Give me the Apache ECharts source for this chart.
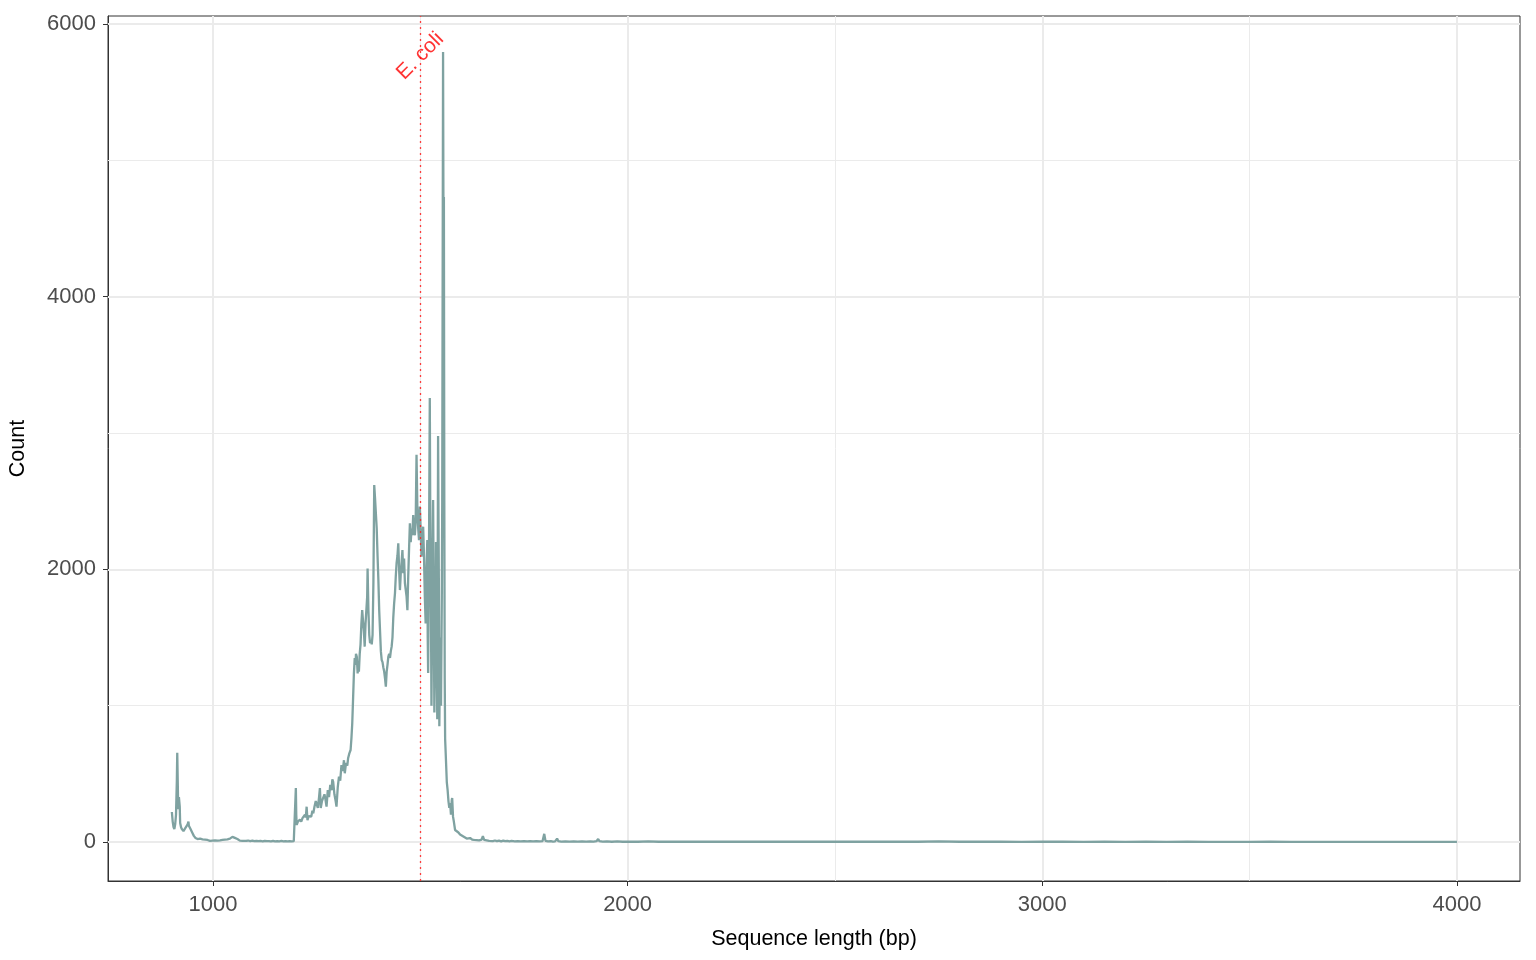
<!DOCTYPE html>
<html><head><meta charset="utf-8">
<script src="https://cdn.jsdelivr.net/npm/echarts@6/dist/echarts.min.js"></script>
<style>html,body{margin:0;padding:0;background:#fff}#c{width:1536px;height:960px}</style>
</head><body><div id="c"></div>
<script>
// Sequence length (bp) and read counts
const seqLength = [
901,903,905,907,909,911,913,914,916,917,918,920,921,923,925,927,929,931,933,935,937,939,941,942,944,946,948,950,952,954,956,958,960,963,966,969,972,975,978,981,984,987,990,993,996,999,
1002,1005,1008,1011,1014,1017,1020,1023,1026,1029,1032,1035,1038,1041,1044,1047,1050,1053,1056,1059,1062,1065,1068,1071,1075,1080,1085,1090,1095,1100,1105,1110,1115,1120,1125,1130,1135,1140,1145,1150,1155,1160,1165,1170,1175,1180,1185,1190,1195,1198,1199,
1200,1201,1202,1205,1207,1210,1213,1216,1219,1222,1224,1226,1228,1231,1234,1237,1240,1242,1245,1248,1250,1253,1256,1258,1260,1263,1266,1269,1271,1274,1277,1280,1283,1286,1288,1290,1293,1296,1298,
1301,1304,1307,1310,1313,1316,1318,1321,1324,1326,1329,1332,1334,1336,1338,1340,1342,1344,1345,1347,1349,1350,1352,1354,1356,1358,1360,1362,1364,1366,1368,1370,1372,1373,1375,1377,1379,1381,1383,1385,1387,1389,1391,1393,1395,1397,1399,
1401,1403,1405,1407,1409,1411,1413,1415,1417,1419,1421,1423,1425,1427,1429,1431,1433,1435,1437,1439,1441,1443,1445,1447,1449,1451,1453,1455,1457,1459,1461,1463,1465,1467,1469,1471,1473,1475,1477,1479,1481,1483,1485,1487,1489,1491,1493,1495,1497,1499,
1501,1503,1505,1507,1509,1511,1513,1515,1517,1518,1519,1521,1523,1524,1526,1527,1529,1531,1533,1534,1536,1538,1540,1541,1543,1545,1546,1548,1550,1552,1553,1555,1556,1557,1558,1559,1560,1562,1564,1566,1568,1570,1572,1574,1576,1577,1579,1581,1584,1588,1592,1596,
1600,1604,1608,1612,1616,1620,1625,1630,1636,1642,1648,1651,1654,1660,1666,1670,1675,1680,1685,1690,1695,1700,1705,1710,1715,1720,1728,1735,1742,1750,1758,1765,1772,1780,1788,1795,1799,1802,1808,1815,1820,1825,1830,1833,1840,1850,1860,1870,1880,1890,1900,1910,1918,1925,1929,1932,1940,1950,1962,1975,1988,
2000,2025,2050,2075,2100,2125,2150,2175,2200,2250,2300,2350,2400,2450,2500,2550,2600,2650,2700,2750,2800,2850,2900,2950,3000,3050,3100,3150,3200,3250,3300,3350,3400,3450,3500,3550,3600,3650,3700,3750,3800,3850,3900,3950,4000
];
const counts = [
220,150,110,95,130,200,450,655,300,240,330,260,140,110,95,85,80,90,100,95,110,130,150,120,110,95,90,70,60,45,35,30,25,22,18,25,15,20,12,18,10,15,12,8,14,10,
16,12,18,10,14,12,20,15,22,18,28,20,32,25,30,38,44,30,18,22,14,10,16,9,12,8,11,7,10,6,9,6,8,5,9,6,7,5,8,5,7,5,8,4,7,5,6,4,6,5,6,
396,200,125,150,139,165,150,175,170,200,180,259,161,190,200,186,230,210,260,300,280,250,330,396,250,300,290,350,320,259,380,330,420,380,460,442,350,300,259,
400,480,450,565,520,600,504,580,560,614,650,675,760,870,1050,1237,1350,1300,1380,1359,1237,1300,1250,1380,1450,1600,1702,1620,1550,1433,1600,1700,1800,2007,1700,1520,1458,1480,1450,1520,1900,2619,2520,2509,2300,2100,1922,
1700,1550,1400,1335,1320,1280,1250,1200,1139,1250,1300,1359,1380,1350,1400,1433,1500,1650,1750,1824,1950,2050,2100,2191,2000,1848,1971,2050,2141,1971,2080,1900,1850,1800,1700,1950,2150,2338,2200,2300,2250,2398,2300,2250,2350,2840,2450,2300,2215,2460,
2300,2093,2200,2313,2100,1800,1604,2000,2215,1500,1240,2100,3257,2500,1600,1000,1800,2509,1500,950,1400,2200,1300,900,2978,1800,850,1500,1000,1800,2500,5795,4500,4731,2500,1200,755,600,440,380,300,250,286,200,308,323,186,150,88,88,70,55,
66,40,29,25,30,29,18,15,14,12,18,44,15,12,8,13,7,11,6,10,5,10,6,9,5,8,5,7,4,7,4,6,4,6,4,7,60,8,4,6,3,5,25,6,3,5,3,5,3,5,3,4,3,6,22,6,3,4,2,4,2,
3,2,4,2,3,2,3,2,3,2,3,2,2,3,2,2,2,3,2,4,2,2,2,1,2,2,1,2,1,2,1,2,1,1,1,2,1,1,1,1,1,1,1,1,1
];
const xTicks = [1000, 2000, 3000, 4000];
const xMinorTicks = [1500, 2500, 3500];
const yTicks = [0, 2000, 4000, 6000];
const yMinorTicks = [1000, 3000, 5000];
const refLineX = 1500;
const refLabelText = 'E. coli';
const refLabelY = 5765;

const FONT = '"Liberation Sans", Arial, Helvetica, sans-serif';
const chart = echarts.init(document.getElementById('c'), null, {renderer: 'canvas'});
const majorStyle = {color: '#ebebeb', width: 2, type: 'solid'};
const minorStyle = {color: '#ebebeb', width: 1, type: 'solid'};
const plain = v => String(v);

chart.setOption({
  animation: false,
  backgroundColor: '#ffffff',
  textStyle: {fontFamily: FONT},
  grid: {left: 108, right: 16, top: 16, bottom: 79, outerBoundsMode: 'none', containLabel: false, show: true, borderColor: '#333333', borderWidth: 1, backgroundColor: 'transparent'},
  xAxis: {
    type: 'value', min: 747, max: 4152,
    axisLine: {show: true, onZero: false, lineStyle: {color: '#333333', width: 1}},
    axisTick: {show: true, customValues: xTicks, length: 5, lineStyle: {color: '#333333', width: 1}},
    axisLabel: {customValues: xTicks, formatter: plain, color: '#4d4d4d', fontSize: 22, margin: 13, fontFamily: FONT},
    splitLine: {show: false},
    name: 'Sequence length (bp)', nameLocation: 'middle', nameGap: 47,
    nameTextStyle: {color: '#000000', fontSize: 21.5, fontFamily: FONT}
  },
  yAxis: {
    type: 'value', min: -286, max: 6059,
    axisLine: {show: true, onZero: false, lineStyle: {color: '#333333', width: 1}},
    axisTick: {show: true, customValues: yTicks, length: 5, lineStyle: {color: '#333333', width: 1}},
    axisLabel: {customValues: yTicks, formatter: plain, color: '#4d4d4d', fontSize: 22, margin: 12, fontFamily: FONT},
    splitLine: {show: false},
    name: 'Count', nameLocation: 'middle', nameGap: 79, nameRotate: 90,
    nameTextStyle: {color: '#000000', fontSize: 21.5, fontFamily: FONT}
  },
  series: [
    {
      type: 'line', data: [], z: 1, silent: true,
      markLine: {
        z: 1, silent: true, symbol: ['none', 'none'], label: {show: false}, animation: false,
        data: [
          ...xMinorTicks.map(v => ({xAxis: v, lineStyle: minorStyle})),
          ...yMinorTicks.map(v => ({yAxis: v, lineStyle: minorStyle})),
          ...xTicks.map(v => ({xAxis: v, lineStyle: majorStyle})),
          ...yTicks.map(v => ({yAxis: v, lineStyle: majorStyle}))
        ]
      }
    },
    {
      type: 'line', z: 3,
      data: seqLength.map((x, i) => [x, counts[i]]),
      showSymbol: false, symbol: 'none',
      lineStyle: {color: '#7fa2a1', width: 2.3},
      markLine: {
        z: 4, silent: true, symbol: ['none', 'none'], label: {show: false}, animation: false,
        lineStyle: {color: 'rgba(255,30,30,0.85)', type: [2, 4], width: 1.3},
        data: [{xAxis: refLineX}]
      }
    },
    {
      type: 'scatter', z: 5, silent: true,
      data: [[refLineX, refLabelY]],
      symbolSize: 0,
      label: {show: true, position: 'inside', rotate: 45, formatter: () => refLabelText, color: '#ff0000', fontSize: 21, fontFamily: FONT}
    }
  ]
});
</script>
</body></html>
